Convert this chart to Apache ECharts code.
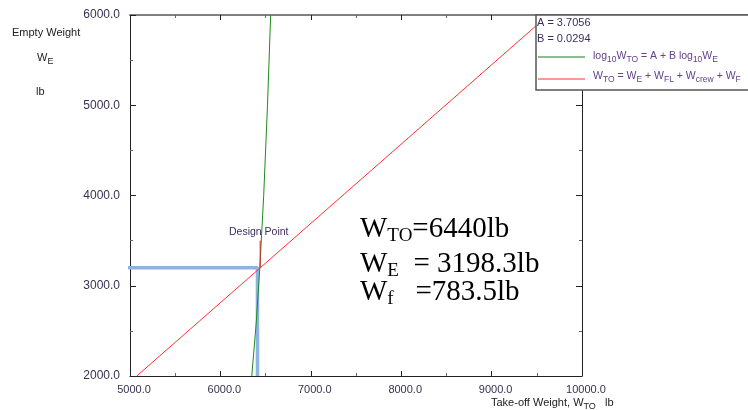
<!DOCTYPE html>
<html>
<head>
<meta charset="utf-8">
<script src="https://cdn.jsdelivr.net/npm/echarts@6/dist/echarts.min.js"></script>
<style>html,body{margin:0;padding:0;background:#fff}#c{width:748px;height:410px}</style>
</head>
<body>
<div id="c"></div>
<script>
// ---- data ----
const xMin = 5000, xMax = 10000, xStep = 1000;
const yMin = 2000, yMax = 6000, yStep = 1000;
// W_TO = W_E + W_FL + W_crew + W_F  (red)
const redWTO = [5075, 6440, 9628];
const redWE  = [2000, 3198.3, 6000];
// log10 W_TO = A + B log10 W_E  (green)
const greenWTO = [6347, 6397, 6436, 6479, 6521, 6556];
const greenWE  = [2000, 2600, 3198.3, 4000, 5000, 6000];
// blue guide lines to the design point
const blueWTO = [4975, 6410, 6410];
const blueWE  = [3198.3, 3198.3, 2000];
// design point pointer
const ptrWTO = [6440, 6440];
const ptrWE  = [3500, 3198.3];
const resultLines = [
  ['W', 'TO', '=6440lb'],
  ['W', 'E', '  = 3198.3lb'],
  ['W', 'f', '   =783.5lb']
];
const coefA = '3.7056', coefB = '0.0294';

const zip = (a, b) => a.map((v, i) => [v, b[i]]);
const tickColor = '#3a3050';
const fmtColor = '#62408a';
const sans = '"Liberation Sans", Arial, sans-serif';
const serif = '"Liberation Serif", "Times New Roman", serif';

const mctx = document.createElement('canvas').getContext('2d');
function measure(text, size, fam) {
  mctx.font = size + 'px ' + fam;
  return mctx.measureText(text).width;
}
// pieces: [text, fontSize, baselineOffset]
function richLine(out, x, baseline, pieces, color, fam, z) {
  let cx = x;
  pieces.forEach(p => {
    const [t, size, dy] = p;
    out.push({type: 'text', z: z || 61, x: cx, y: baseline + dy - 0.34 * size,
      style: {text: t, fontSize: size, fontFamily: fam, fill: color, align: 'left', verticalAlign: 'middle'}});
    cx += measure(t, size, fam);
  });
}

const chart = echarts.init(document.getElementById('c'), null, {renderer: 'canvas'});

const baseAxis = {
  type: 'value',
  splitLine: {show: false},
  axisLine: {show: true, onZero: false, lineStyle: {color: '#222', width: 1}},
  axisTick: {show: true, inside: true, length: 5, lineStyle: {color: '#222'}},
  minorTick: {show: true, splitNumber: 2, length: 3, lineStyle: {color: '#666'}},
};

const g = [];
// top border line extending under legend
g.push({type: 'line', z: 50, shape: {x1: 582, y1: 15, x2: 748, y2: 15}, style: {stroke: '#808080', lineWidth: 2}});
// legend box
g.push({type: 'rect', z: 60, shape: {x: 536, y: 15, width: 230, height: 75}, style: {fill: '#fff', stroke: '#555', lineWidth: 1.5}});
richLine(g, 537, 27, [['A = ' + coefA, 11, 0]], '#3a2e62', sans);
richLine(g, 537, 43, [['B = ' + coefB, 11, 0]], '#3a2e62', sans);
g.push({type: 'line', z: 61, shape: {x1: 538, y1: 57, x2: 585, y2: 57}, style: {stroke: '#1f7a1f', lineWidth: 1}});
g.push({type: 'line', z: 61, shape: {x1: 538, y1: 79, x2: 585, y2: 79}, style: {stroke: '#ff3030', lineWidth: 1}});
richLine(g, 593, 60, [['log', 10.5, 0], ['10', 8.5, 3], ['W', 10.5, 0], ['TO', 8.5, 3], [' = A + B log', 10.5, 0], ['10', 8.5, 3], ['W', 10.5, 0], ['E', 8.5, 3]], fmtColor, sans);
richLine(g, 593, 80, [['W', 10.5, 0], ['TO', 8.5, 3], [' = W', 10.5, 0], ['E', 8.5, 3], [' + W', 10.5, 0], ['FL', 8.5, 3], [' + W', 10.5, 0], ['crew', 8.5, 3], [' + W', 10.5, 0], ['F', 8.5, 3]], fmtColor, sans);
// y axis name
richLine(g, 12, 37, [['Empty Weight', 11, 0]], '#222', sans);
richLine(g, 37, 62, [['W', 11, 0], ['E', 9, 3]], '#222', sans);
richLine(g, 36, 95.5, [['lb', 11, 0]], '#222', sans);
// x axis name
richLine(g, 491, 406.5, [['Take-off Weight, W', 11, 0], ['TO', 9, 3], ['   lb', 11, 0]], '#222', sans);
// design point label
richLine(g, 229, 236, [['Design Point', 10.5, 0]], '#3a2e62', sans);
// result text
const baselines = [239, 274, 302];
resultLines.forEach((ln, i) => {
  richLine(g, 360, baselines[i], [[ln[0], 29, 0], [ln[1], 19, 3], [ln[2], 29, 0]], '#000', serif);
});

chart.setOption({
  animation: false,
  backgroundColor: '#fff',
  grid: {left: 130, right: 166, top: 15, bottom: 34, containLabel: false},
  xAxis: [
    Object.assign({}, baseAxis, {min: xMin, max: xMax, interval: xStep, position: 'bottom',
      axisLabel: {formatter: v => v.toFixed(1), fontFamily: sans, fontSize: 11, color: tickColor, margin: 8, padding: [0, 0, 0, 8]}}),
    Object.assign({}, baseAxis, {min: xMin, max: xMax, interval: xStep, position: 'top',
      axisLine: {show: true, onZero: false, lineStyle: {color: '#808080', width: 2}}, axisLabel: {show: false}})
  ],
  yAxis: [
    Object.assign({}, baseAxis, {min: yMin, max: yMax, interval: yStep, position: 'left',
      axisTick: {show: true, inside: true, length: 6, lineStyle: {color: '#222'}},
      axisLabel: {formatter: v => v.toFixed(1), fontFamily: sans, fontSize: 12, color: tickColor, margin: 10}}),
    Object.assign({}, baseAxis, {min: yMin, max: yMax, interval: yStep, position: 'right',
      axisTick: {show: true, inside: true, length: 6, lineStyle: {color: '#222'}},
      axisLabel: {show: false}})
  ],
  graphic: g,
  series: [
    {type: 'line', name: 'blue', data: zip(blueWTO, blueWE), symbol: 'none', clip: false,
      lineStyle: {color: '#8db3e2', width: 3.5}, z: 1},
    {type: 'line', name: 'WTO sum', data: zip(redWTO, redWE), symbol: 'none',
      lineStyle: {color: '#ff3030', width: 1}, z: 3},
    {type: 'line', name: 'log relation', data: zip(greenWTO, greenWE), symbol: 'none',
      lineStyle: {color: '#1f8a1f', width: 1}, z: 3},
    {type: 'line', name: 'pointer', data: zip(ptrWTO, ptrWE), symbol: 'none',
      lineStyle: {color: '#e02020', width: 1}, z: 4}
  ]
});
</script>
</body>
</html>
